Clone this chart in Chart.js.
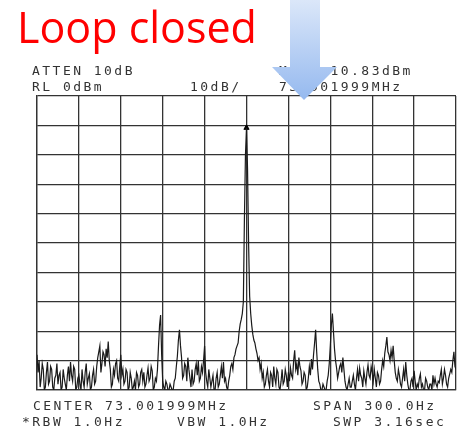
<!DOCTYPE html>
<html>
<head>
<meta charset="utf-8">
<script src="https://cdn.jsdelivr.net/npm/chart.js@4.4.1/dist/chart.umd.min.js"></script>
<style>
  body { margin: 0; background: #fff; }
  #wrap { position: relative; width: 461px; height: 441px; overflow: hidden; }
  #myChart { position: absolute; left: 0; top: 0; }
  .t { position: absolute; font-family: "DejaVu Sans Mono", monospace; font-size: 13px;
       line-height: 13px; letter-spacing: 2.47px; color: #333; white-space: pre; }
  #title { position: absolute; left: 17px; top: 5px; font-family: "Open Sans", "Noto Sans", sans-serif;
           font-size: 43px; line-height: 43px; color: #ff0000; white-space: pre; }
  #arrow { position: absolute; left: 0; top: 0; }
</style>
</head>
<body>
<div id="wrap">
  <canvas id="myChart" width="461" height="441"></canvas>
  <div id="title">Loop closed</div>
  <div class="t" style="left:32px; top:64px">ATTEN 10dB</div>
  <div class="t" style="left:32px; top:80px">RL 0dBm</div>
  <div class="t" style="left:190px; top:80px">10dB/</div>
  <div class="t" style="left:279px; top:64px">MKR -10.83dBm</div>
  <div class="t" style="left:279px; top:80px">73.001999MHz</div>
  <div class="t" style="left:33px; top:399px">CENTER 73.001999MHz</div>
  <div class="t" style="left:313px; top:399px">SPAN 300.0Hz</div>
  <div class="t" style="left:22px; top:415px">*RBW 1.0Hz</div>
  <div class="t" style="left:177px; top:415px">VBW 1.0Hz</div>
  <div class="t" style="left:333px; top:415px">SWP 3.16sec</div>
  <svg id="arrow" width="461" height="110">
    <defs>
      <linearGradient id="ag" x1="0" y1="0" x2="0" y2="1">
        <stop offset="0" stop-color="#dbe7f9"/>
        <stop offset="1" stop-color="#95b9ef"/>
      </linearGradient>
    </defs>
    <polygon points="290,0 320,0 320,67 337,67 304,100 272,67 290,67" fill="url(#ag)"/>
  </svg>
</div>
<script>
// sweep: 300 Hz span around 73.001999 MHz, 401 points
const START_HZ = -150
const STEP_HZ = 0.75
const levels = [
  -88, -94, -90, -99, -96, -91, -93, -100, -99, -94, -90.5, -98, -97, -92, -93, -99, -100, -96, -95, -91,
  -98, -95, -94, -100, -99, -93, -96, -98, -100, -95, -92, -97, -90.5, -95, -97, -92, -93, -100, -99, -96,
  -95, -98, -100, -93, -97, -99, -94, -91, -98, -96, -94.5, -100, -99, -95, -93, -98, -97, -92, -89, -87,
  -85, -94, -91, -87, -88, -92, -86, -89, -83.5, -90, -93, -99, -98, -93, -95, -91, -90, -96, -97, -92,
  -88, -95, -93, -98, -97, -93, -94, -100, -99, -94, -96, -100, -99, -97, -100, -94, -95, -99, -98, -94,
  -93, -97, -94, -99, -98, -95, -92.5, -97, -96, -92, -93.5, -100, -99, -96, -97, -93, -85, -78, -74.5, -88,
  -97, -99, -100, -97, -98, -100, -100, -98, -99, -100, -100, -97, -96, -92, -88.5, -83, -79.5, -85, -89, -96,
  -95, -91, -92, -97, -89, -93, -96, -99, -93, -98, -97, -93, -91, -95, -90, -97, -96, -92, -94, -90,
  -85, -94, -97, -99, -93, -96, -99, -97, -95, -100, -100, -96, -94, -99, -98, -95, -92, -96, -90.5, -97,
  -96, -99, -100, -97, -95, -92, -91, -93, -89, -88, -86, -85, -84, -80, -77.5, -76, -74, -70, -42, -20,
  -10.83, -25, -50, -68, -74, -78, -81, -83, -84, -86, -87.5, -90, -89, -93, -91, -96, -94, -99, -98, -95,
  -93, -97, -99, -94, -95, -99, -92, -96, -98, -93, -94, -99, -100, -97, -93, -98, -97, -93, -95, -99,
  -94, -97, -92.5, -95, -96, -90, -86.5, -93, -91, -95, -89, -92, -93.5, -98, -97, -94, -95, -100, -99, -96,
  -92, -95, -89.5, -93, -88, -84, -79.5, -87, -93, -97, -98, -100, -100, -98, -99, -100, -100, -97, -95, -91,
  -85, -78, -74, -80, -86, -90, -92.5, -96, -94, -92, -91, -94, -89, -93, -97, -99, -100, -98, -96, -99,
  -99, -97, -95, -98, -100, -96, -93, -97, -92.5, -95, -96, -99, -93.5, -96, -98, -94, -91.5, -95, -96, -92,
  -94, -97, -93, -96, -99, -94, -95, -98, -97, -93, -90, -92, -87.5, -85, -82, -87, -88, -90, -86.5, -89,
  -85, -90, -94, -96, -97, -93, -95, -98, -99, -96, -93, -97, -90.5, -95, -98, -100, -100, -97, -96, -99,
  -93.5, -97, -100, -98, -99, -96, -94.5, -99, -98, -100, -100, -96, -97, -99, -100, -98, -98, -100, -95, -98,
  -96, -98, -99, -97, -97.5, -95, -93, -98, -96, -93, -95, -98, -99, -96, -94.5, -93, -94, -90, -87, -92,
  -93
]
const markerHz = [0]
const markerLevel = [-10.83]

const GRID = '#333333'

function updateChart() {
  var trace = levels.map(function (v, i) { return { x: START_HZ + STEP_HZ * i, y: v } })
  var ctx = document.getElementById('myChart').getContext('2d')
  var chart = new Chart(ctx, {
    type: 'line',
    data: {
      datasets: [{
        data: trace,
        borderColor: '#1a1a1a',
        borderWidth: 1.2,
        pointRadius: 0,
        tension: 0
      }, {
        data: [{ x: markerHz[0], y: markerLevel[0] }],
        showLine: false,
        pointStyle: 'triangle',
        pointRadius: 3,
        backgroundColor: '#000',
        borderColor: '#000'
      }]
    },
    options: {
      responsive: false,
      devicePixelRatio: 1,
      animation: false,
      layout: { padding: { left: 37, top: 96, right: 5, bottom: 51 } },
      plugins: { legend: { display: false }, tooltip: { enabled: false } },
      scales: {
        x: {
          type: 'linear', min: -150, max: 150,
          ticks: { display: false, stepSize: 30 },
          grid: { color: GRID, lineWidth: 1.3, drawTicks: false },
          border: { color: GRID, width: 1.3 }
        },
        y: {
          type: 'linear', min: -100, max: 0,
          ticks: { display: false, stepSize: 10 },
          grid: { color: GRID, lineWidth: 1.3, drawTicks: false },
          border: { color: GRID, width: 1.3 }
        }
      }
    }
  })
}
updateChart()
</script>
</body>
</html>
